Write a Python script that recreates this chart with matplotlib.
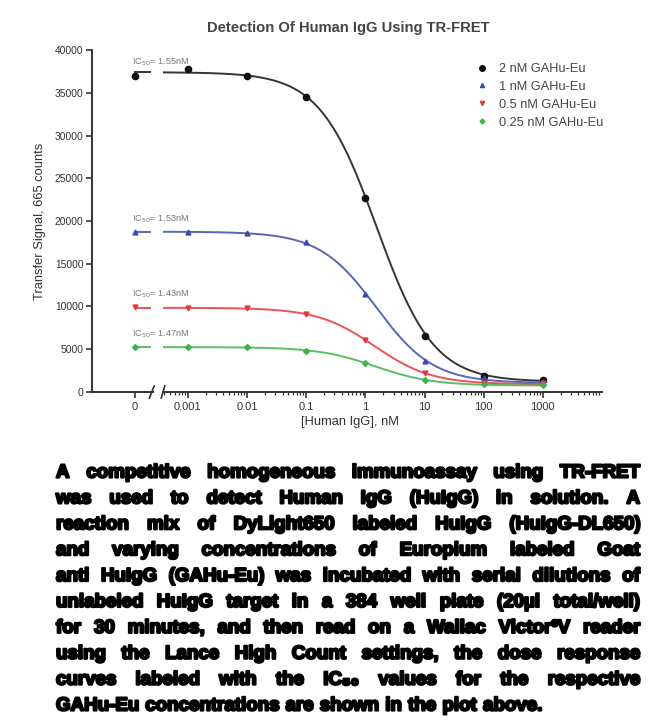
import numpy as np
import matplotlib
matplotlib.use('Agg')
import matplotlib.pyplot as plt
import matplotlib.patheffects as pe
from matplotlib.lines import Line2D

# --- data ---
conc = [0, 0.001, 0.01, 0.1, 1, 10, 100, 1000]
conc_labels = ["0", "0.001", "0.01", "0.1", "1", "10", "100", "1000"]

series_names = ["2 nM GAHu-Eu", "1 nM GAHu-Eu", "0.5 nM GAHu-Eu", "0.25 nM GAHu-Eu"]
sig_2nM = [36990, 37740, 36960, 34540, 22690, 6590, 1910, 1400]
sig_1nM = [18680, 18750, 18560, 17510, 11430, 3630, 1680, 1200]
sig_05nM = [9900, 9790, 9790, 9120, 6080, 2180, 1100, 1000]
sig_025nM = [5230, 5230, 5230, 4800, 3430, 1400, 940, 820]

# 4PL fit parameters (top, bottom, IC50 nM, hill)
fit_top = [37400, 18750, 9850, 5250]
fit_bottom = [1200, 1050, 900, 750]
fit_ic50 = [1.55, 1.53, 1.43, 1.47]
fit_hill = [0.9, 0.9, 0.9, 0.9]
ic50_labels = ["1.55nM", "1.53nM", "1.43nM", "1.47nM"]

colors = ["#111111", "#3a4cb0", "#e8353a", "#3db34a"]
markers = ["o", "^", "v", "D"]
msizes = [4.5, 3.5, 3.5, 3.0]

caption_lines = [
    "A competitive homogeneous immunoassay using TR-FRET",
    "was used to detect Human IgG (HuIgG) in solution. A",
    "reaction mix of DyLight650 labeled HuIgG (HuIgG-DL650)",
    "and varying concentrations of Europium labeled Goat",
    "anti HuIgG (GAHu-Eu) was incubated with serial dilutions of",
    "unlabeled HuIgG target in a 384 well plate (20µl total/well)",
    "for 30 minutes, and then read on a Wallac Victor³V reader",
    "using the Lance High Count settings, the dose response",
    "curves labeled with the IC₅₀ values for the respective",
    "GAHu-Eu concentrations are shown in the plot above.",
]

plt.rcParams['font.family'] = ['Liberation Sans', 'DejaVu Sans']

W, H = 650, 720
fig = plt.figure(figsize=(6.5, 7.2), dpi=100)
fig.patch.set_facecolor('white')

def fx(px):
    return px / W

def fy(py):
    return 1 - py / H

bottom = fy(392)
height = 342 / H
ax_l = fig.add_axes([fx(92), bottom, 61 / W, height])
ax_r = fig.add_axes([fx(163), bottom, 439 / W, height], sharey=ax_l)
ax_l.patch.set_visible(False)
ax_r.patch.set_visible(False)

axis_col = "#333333"
for ax in (ax_l, ax_r):
    for s in ("top", "right"):
        ax.spines[s].set_visible(False)
    ax.spines["bottom"].set_color(axis_col)
    ax.spines["bottom"].set_linewidth(1.4)
    ax.tick_params(colors=axis_col, labelsize=8, width=1.2, length=4, pad=3)
ax_l.spines["left"].set_color(axis_col)
ax_l.spines["left"].set_linewidth(1.4)
ax_l.tick_params(axis="y", labelsize=7.4, pad=2)
ax_r.spines["left"].set_visible(False)
ax_r.tick_params(axis="y", left=False, labelleft=False)

ax_l.set_ylim(0, 40000)
ax_l.set_yticks(np.arange(0, 40001, 5000))
ax_l.set_xlim(-0.705, 0.295)
ax_l.set_xticks([0])
ax_l.set_xticklabels([conc_labels[0]])

ax_r.set_xscale("log")
ax_r.set_xlim(10 ** -3.42, 10 ** 4.0)
ax_r.set_xticks(conc[1:])
ax_r.set_xticklabels(conc_labels[1:])
ax_r.xaxis.set_minor_locator(matplotlib.ticker.LogLocator(base=10, subs=np.arange(2, 10), numticks=20))
ax_r.xaxis.set_minor_formatter(matplotlib.ticker.NullFormatter())
ax_r.tick_params(axis="x", which="minor", length=2.5, width=0.9, colors=axis_col)

# axis break marks
d = 0.012
kw = dict(color=axis_col, lw=1.2, clip_on=False)
ax_l.plot([1 - 0.06, 1 + 0.02], [-d * 1.5, d * 1.5], transform=ax_l.transAxes, **kw)
ax_r.plot([-0.004, 0.004], [-d * 1.5, d * 1.5], transform=ax_r.transAxes, **kw)

all_series = [sig_2nM, sig_1nM, sig_05nM, sig_025nM]
xfit = np.logspace(-3.42, 3.0, 300)
for i, ys in enumerate(all_series):
    c = colors[i]
    yfit = fit_bottom[i] + (fit_top[i] - fit_bottom[i]) / (1 + (xfit / fit_ic50[i]) ** fit_hill[i])
    ax_r.plot(xfit, yfit, color=c, lw=1.4, alpha=0.85)
    ax_r.plot(conc[1:], ys[1:], ls="none", marker=markers[i], ms=msizes[i], color=c)
    # left segment: 0 concentration point with flat stub of the fit
    ax_l.plot([0, 0.25], [yfit[0], yfit[0]], color=c, lw=1.4, alpha=0.85)
    ax_l.plot([conc[0]], [ys[0]], ls="none", marker=markers[i], ms=msizes[i], color=c)
    ax_l.annotate("IC$_{50}$= " + ic50_labels[i], xy=(0, ys[0]), xytext=(-2, 9.5),
                  textcoords="offset points", ha="left", va="center", fontsize=6.6,
                  color="#777777", annotation_clip=False, clip_on=False, zorder=5)

handles = [Line2D([], [], ls="none", marker=markers[i], ms=msizes[i] - 0.5, color=colors[i])
           for i in range(4)]
fig.legend(handles, series_names, loc="upper left", bbox_to_anchor=(fx(477), fy(63)),
           frameon=False, fontsize=9.2, handlelength=0.8, handletextpad=0.9,
           labelspacing=0.46, borderpad=0, borderaxespad=0, labelcolor="#444444")

fig.text(fx(348), fy(28), "Detection Of Human IgG Using TR-FRET", ha="center", va="center",
         fontsize=10.6, fontweight="bold", color="#444444")
fig.text(fx(40), fy(221), "Transfer Signal, 665 counts", rotation=90, ha="center",
         va="center", fontsize=9.3, color="#333333")
fig.text(fx(350), fy(422), "[Human IgG], nM", ha="center", va="center", fontsize=9.3,
         color="#333333")

# justified caption, word by word
cap_left, cap_right = 56, 640
cap_size = 13.5
renderer = fig.canvas.get_renderer()
heavy = [pe.withStroke(linewidth=1.6, foreground="black")]

def word_widths(words, size):
    out = []
    for w in words:
        t = fig.text(0, 0, w, fontsize=size, fontweight="bold")
        out.append(t.get_window_extent(renderer).width)
        t.remove()
    return out

space_w = word_widths(["a b"], cap_size)[0] - 2 * word_widths(["a"], cap_size)[0]
line_y = np.linspace(473, 706, len(caption_lines))
for li, line in enumerate(caption_lines):
    words = line.split(" ")
    widths = word_widths(words, cap_size)
    if li < len(caption_lines) - 1:
        gap = (cap_right - cap_left - sum(widths)) / (len(words) - 1)
    else:
        gap = space_w
    x = cap_left
    for w, ww in zip(words, widths):
        fig.text(fx(x), fy(line_y[li]), w, fontsize=cap_size, fontweight="bold",
                 color="black", ha="left", va="center", path_effects=heavy)
        x += ww + gap

fig.savefig("out.png", dpi=100, facecolor="white")
